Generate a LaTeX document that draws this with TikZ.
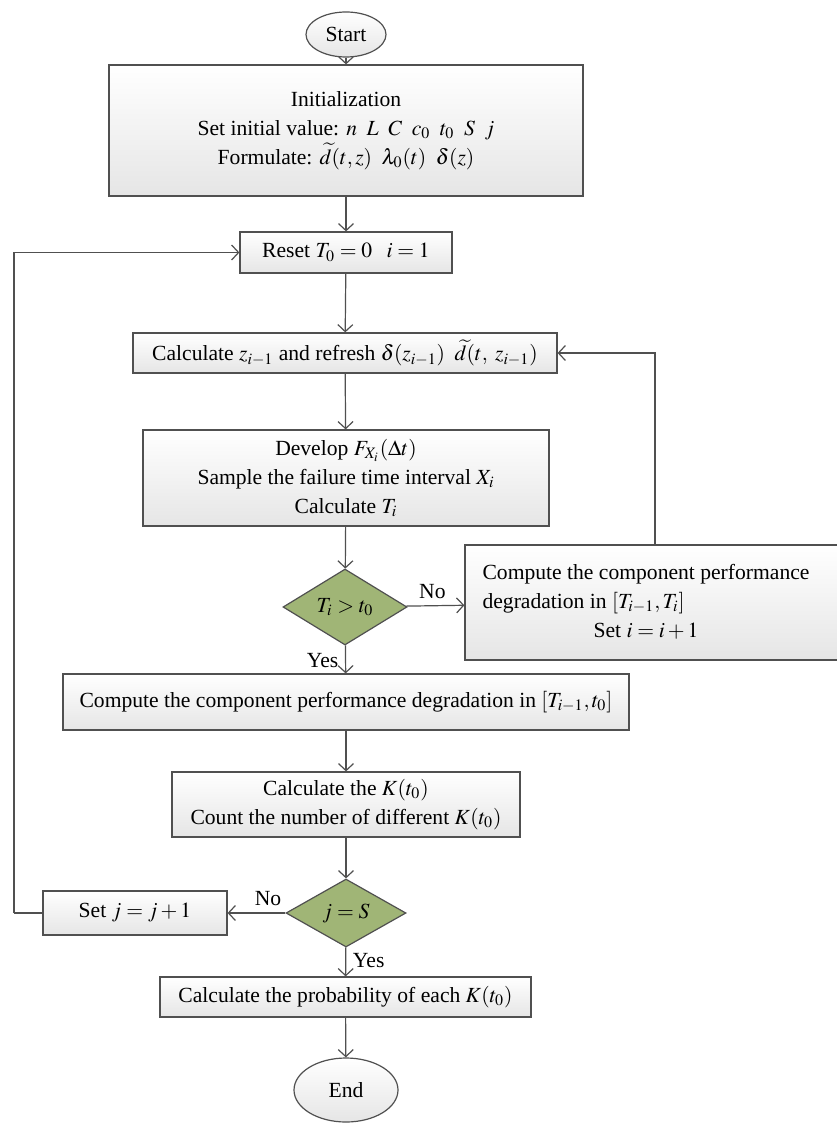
\documentclass[tikz,border=0pt]{standalone}
\usepackage{mathptmx}
\usepackage{fontspec}
\setmainfont{Liberation Serif}
\usetikzlibrary{shapes.geometric,arrows.meta}
\definecolor{linegray}{RGB}{80,80,80}
\definecolor{olivefill}{RGB}{160,181,118}
\tikzset{
  flowbox/.style={draw=linegray, line width=0.6pt, rectangle, top color=white, bottom color=black!10, align=center, inner sep=0pt},
  termbox/.style={draw=linegray, line width=0.6pt, ellipse, top color=white, bottom color=black!10, inner sep=0pt},
  decision/.style={draw=linegray, line width=0.6pt, diamond, fill=olivefill, inner sep=0pt},
  flowline/.style={draw=linegray, line width=0.6pt, -{Straight Barb[length=3.5pt,width=7.5pt]}},
  plainline/.style={draw=linegray, line width=0.6pt}
}

\begin{document}
\begin{tikzpicture}[x=0.5pt, y=-0.5pt, font=\fontsize{10.8}{14.5}\selectfont]
			%%%%% START %%%%%
			\useasboundingbox (0,0) rectangle (836,1123);
			
			\node[termbox, minimum width=40pt, minimum height=22.5pt] (start) at (346, 34.5) {Start};
			
			\node[flowbox, minimum width=237pt, minimum height=65.5pt] (init) at (346, 130.5) {Initialization\\Set initial value: $n\;\;L\;\;C\;\;c_0\;\;t_0\;\;S\;\;j$\\Formulate: $\widetilde{d}(t,z)\;\;\lambda_0(t)\;\;\delta(z)$};
			\node[flowbox, minimum width=106pt, minimum height=20.5pt] (reset) at (346, 252.5) {Reset $T_0 = 0\;\;\; i = 1$};
			\node[flowbox, minimum width=212pt, minimum height=20pt] (calcz) at (345, 353) {Calculate $z_{i-1}$ and refresh $\delta(z_{i-1})\;\;\widetilde{d}(t,\; z_{i-1})$};
			\node[flowbox, minimum width=203pt, minimum height=48pt] (develop) at (346, 478) {Develop $F_{X_i}(\Delta t)$\\Sample the failure time interval $X_i$\\Calculate $T_i$};
			
			\node[decision, minimum width=62pt, minimum height=38pt] (dtime) at (345, 607) {$T_i > t_0$};
			\node[flowbox, minimum width=190pt, minimum height=57.5pt] (degr) at (655, 602.5) {\begin{tabular}{@{}c@{}}\begin{tabular}{@{}l@{}}Compute the component performance\\degradation in $[T_{i-1}, T_i]$\end{tabular}\\[1pt]Set $i = i + 1$\end{tabular}\hspace*{9pt}};
			
			\node[flowbox, minimum width=283pt, minimum height=28pt] (comp) at (346, 702) {Compute the component performance degradation in $[T_{i-1}, t_0]$};
			\node[flowbox, minimum width=174pt, minimum height=32.5pt] (calck) at (346, 804.5) {Calculate the $K(t_0)$\\Count the number of different $K(t_0)$};
			
			\node[decision, minimum width=60pt, minimum height=34pt] (dcount) at (346, 913) {$j = S$};
			\node[flowbox, minimum width=92pt, minimum height=22pt] (setj) at (135, 913) {Set $j = j + 1$};
			\node[flowbox, minimum width=185.5pt, minimum height=20pt] (prob) at (345.5, 997) {Calculate the probability of each $K(t_0)$};
			\node[termbox, minimum width=52pt, minimum height=32pt] (stop) at (346, 1090) {End};
			
			\coordinate (loop) at (14, 913);
			
			\draw[flowline] (start) -- (init);
			\draw[flowline] (init) -- (reset);
			\draw[flowline] (reset) -- (calcz);
			\draw[flowline] (calcz) -- (develop);
			\draw[flowline] (develop) -- (dtime);
			\draw[flowline] (dtime) -- node[above, pos=0.45] {No} (degr);
			\draw[flowline] (dtime) -- node[left, pos=0.55] {Yes} (comp);
			\draw[flowline] (degr.north) |- (calcz.east);
			\draw[flowline] (comp) -- (calck);
			\draw[flowline] (calck) -- (dcount);
			\draw[flowline] (dcount) -- node[above, pos=0.3] {No} (setj);
			\draw[flowline] (dcount) -- node[right, pos=0.45] {Yes} (prob);
			\draw[plainline] (setj.west) -- (loop);
			\draw[flowline] (loop) |- (reset.west);
			\draw[flowline] (prob) -- (stop);
			
			%%%%% END %%%%%
\end{tikzpicture}
\end{document}
